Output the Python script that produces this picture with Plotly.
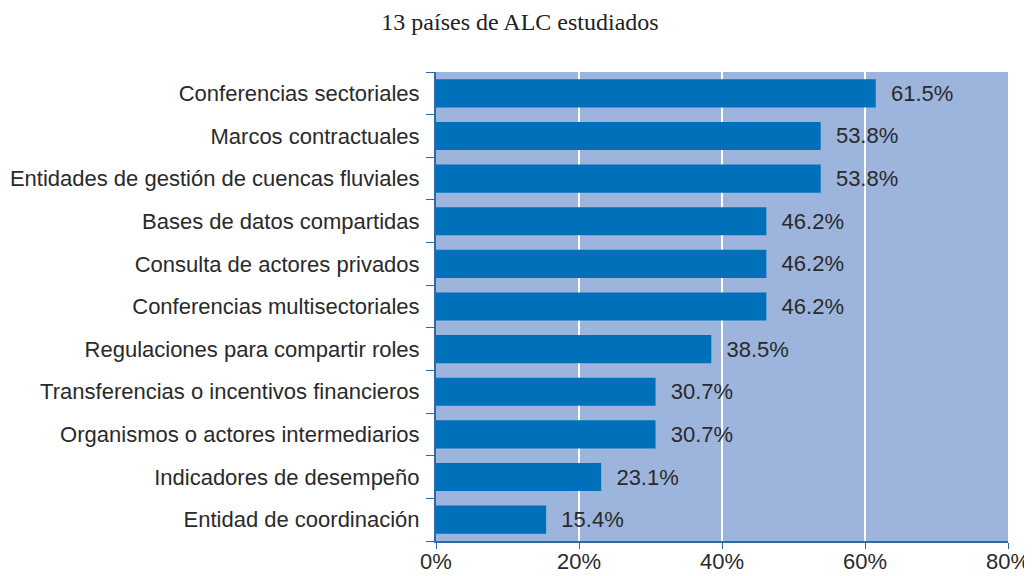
import plotly.graph_objects as go

categories = [
    "Conferencias sectoriales",
    "Marcos contractuales",
    "Entidades de gestión de cuencas fluviales",
    "Bases de datos compartidas",
    "Consulta de actores privados",
    "Conferencias multisectoriales",
    "Regulaciones para compartir roles",
    "Transferencias o incentivos financieros",
    "Organismos o actores intermediarios",
    "Indicadores de desempeño",
    "Entidad de coordinación",
]
values = [61.5, 53.8, 53.8, 46.2, 46.2, 46.2, 38.5, 30.7, 30.7, 23.1, 15.4]
x_ticks = [0, 20, 40, 60, 80]
x_tick_labels = ["0%", "20%", "40%", "60%", "80%"]

fig = go.Figure()
fig.add_trace(go.Bar(
    x=values[::-1],
    y=categories[::-1],
    orientation="h",
    marker=dict(color="#0070BA", line=dict(width=0)),
    text=[f"  {v:.1f}%" for v in values[::-1]],
    textposition="outside",
    textfont=dict(family="Liberation Sans, Arial", size=22, color="#2a2a2a"),
    cliponaxis=False,
))

# page body has an 8px default margin, so the figure is shifted by 8px
fig.update_layout(
    width=1024,
    height=568,
    margin=dict(l=428, r=24, t=64, b=35),
    paper_bgcolor="white",
    plot_bgcolor="#9DB5DD",
    bargap=0.34,
    showlegend=False,
    title=dict(
        text="13 países de ALC estudiados",
        x=0.5, xref="container", xanchor="center",
        y=1 - 14 / 568, yanchor="middle",
        font=dict(family="Liberation Serif, Times New Roman", size=24, color="#222222"),
    ),
    font=dict(family="Liberation Sans, Arial", size=22, color="#2a2a2a"),
)
fig.update_xaxes(
    range=[0, 80],
    tickvals=x_ticks,
    ticktext=x_tick_labels,
    showgrid=True,
    gridcolor="white",
    gridwidth=1.5,
    zeroline=False,
    showline=True,
    linecolor="#2E6AA8",
    linewidth=2,
    ticks="outside",
    tickcolor="#2E6AA8",
    ticklen=6,
    ticklabelstandoff=-6,
    tickfont=dict(size=22),
    automargin=False,
)
fig.update_yaxes(
    showgrid=False,
    showline=True,
    linecolor="#2E6AA8",
    linewidth=2,
    ticks="outside",
    tickson="boundaries",
    tickcolor="#2E6AA8",
    ticklen=8,
    ticklabelstandoff=10,
    tickfont=dict(size=22),
    automargin=False,
)

fig.write_html("out.html")
